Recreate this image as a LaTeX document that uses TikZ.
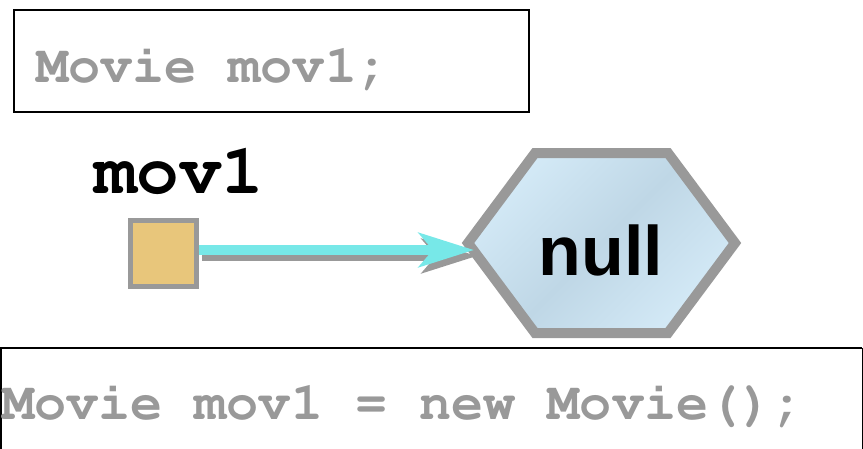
\documentclass[tikz,border=0pt]{standalone}
\usepackage[T1]{fontenc}
\usepackage{fontspec}
\setmainfont{Liberation Sans}
\newcommand{\courierbold}{\fontencoding{T1}\fontfamily{pcr}\fontseries{b}\selectfont}
\usetikzlibrary{arrows.meta}
\definecolor{codegray}{HTML}{999999}
\definecolor{bordergray}{HTML}{999999}
\definecolor{tan}{HTML}{E8C67B}
\definecolor{cyanline}{HTML}{77E8E8}
\definecolor{hexA}{HTML}{D4EAF7}
\definecolor{hexB}{HTML}{BFD7E6}
\tikzset{
  codebox/.style={draw=black, line width=2pt},
  codetext/.style={anchor=base west, inner sep=0pt, text=codegray, font=\fontsize{53.5}{60}\courierbold},
  varlabel/.style={anchor=base west, inner sep=0pt, text=black, font=\fontsize{71}{76}\courierbold},
  refbox/.style={draw=bordergray, line width=5pt, fill=tan, minimum size=66pt, inner sep=0pt},
  hexshape/.style={draw=bordergray, line width=10pt, line join=miter, top color=hexA, bottom color=hexA, middle color=hexB, shading angle=45},
  reftext/.style={font=\bfseries\fontsize{70}{80}\selectfont, inner sep=0pt},
  refarrow/.style={line width=10pt, -{Stealth[length=55pt, width=34pt, inset=14pt]}},
}
\begin{document}
\begin{tikzpicture}[x=1pt,y=-1pt]
\useasboundingbox (0,0) rectangle (863,448);
\clip (0,0) rectangle (863,448);
% top code box
\draw[codebox] (14,10) rectangle (529,112);
\node[codetext] (code1) at (36,82) {Movie mov1;};
% bottom code box
\draw[codebox] (1,348) -- (1,470);
\draw[codebox] (0,348) -- (862,348);
\draw[draw=black, line width=1pt] (862,348) -- (862,470);
\node[codetext] (code2) at (2,419) {Movie mov1 = new Movie();};
% variable
\node[varlabel] (lbl) at (94,193) {mov1};
\node[refbox] (sq) at (163,253) {};
% hexagon
\draw[hexshape] (468,243) -- (535,153) -- (668,153) -- (735,243) -- (668,333) -- (535,333) -- cycle;
\coordinate (hexleft) at (474,250);
\node[reftext] (hex) at (601,250) {null};
% arrow with shadow
\draw[refarrow, draw=bordergray, fill=bordergray, transform canvas={shift={(3pt,-6pt)}}] ([yshift=3pt]sq.east) -- (hexleft);
\draw[refarrow, draw=cyanline, fill=cyanline] ([yshift=3pt]sq.east) -- (hexleft);
\end{tikzpicture}
\end{document}
